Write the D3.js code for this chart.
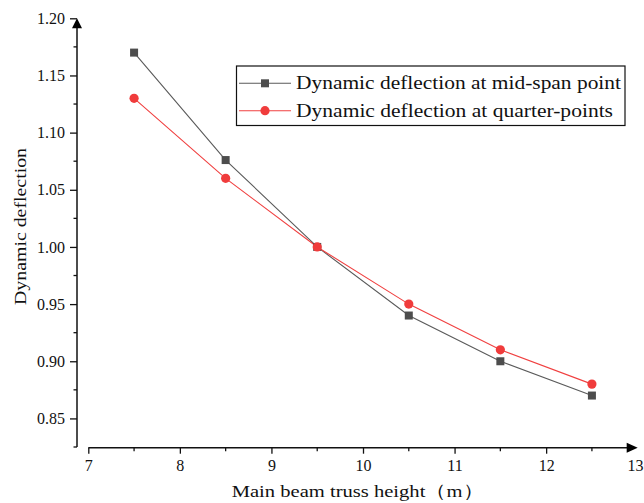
<!DOCTYPE html>
<html lang="en">
<head>
    <meta charset="UTF-8">
    <title>Dynamic deflection</title>
    <style>
        body { margin: 0; background: #fff; }
        text { font-family: "Liberation Serif", "Times New Roman", serif; fill: #111; }
    </style>
</head>
<body>
    <script src="https://cdn.jsdelivr.net/npm/d3@7"></script>
    <script>
        // data
        var heights = [7.5, 8.5, 9.5, 10.5, 11.5, 12.5],
            midSpan = [1.17, 1.076, 1.00, 0.94, 0.90, 0.87],
            quarter = [1.13, 1.06, 1.00, 0.95, 0.91, 0.88],
            xTicks = [7, 8, 9, 10, 11, 12, 13],
            yTicks = [0.85, 0.90, 0.95, 1.00, 1.05, 1.10, 1.15, 1.20],
            seriesNames = ['Dynamic deflection at mid-span point', 'Dynamic deflection at quarter-points'];

        var width = 644, height = 503;
        var serif = '"Liberation Serif", "Times New Roman", serif';
        var svg = d3.select('body').append('svg')
            .attr('width', width)
            .attr('height', height);

        // scales
        var x = d3.scaleLinear().domain([7, 13]).range([88.3, 637.7]);
        var y = d3.scaleLinear().domain([0.825, 1.20]).range([447, 18.3]);
        var yAxisX = 77, xAxisY = 447.7;

        // y axis
        var yAxis = d3.axisLeft(y)
            .tickValues(yTicks)
            .tickSize(7)
            .tickPadding(5)
            .tickFormat(d3.format('.2f'));
        var gy = svg.append('g')
            .attr('transform', 'translate(' + yAxisX + ',0)')
            .call(yAxis);
        gy.select('.domain').remove();
        gy.selectAll('.tick line').attr('stroke', '#111').attr('stroke-width', 1.3);
        gy.selectAll('.tick text').attr('fill', '#222')
            .style('font-family', serif).style('font-size', '16px');
        // minor y ticks
        var yMinor = d3.range(0.825, 1.2, 0.05);
        gy.selectAll('.minor').data(yMinor).enter().append('line')
            .attr('x1', -3.5).attr('x2', 0)
            .attr('y1', function(d) { return y(d); })
            .attr('y2', function(d) { return y(d); })
            .attr('stroke', '#111').attr('stroke-width', 1.3);
        gy.append('line')
            .attr('x1', 0).attr('x2', 0)
            .attr('y1', y(0.825)).attr('y2', y(1.2) + 6)
            .attr('stroke', '#111').attr('stroke-width', 1.5);
        gy.append('path')
            .attr('d', 'M0,' + y(1.2) + 'L-5,' + (y(1.2) + 10) + 'L5,' + (y(1.2) + 10) + 'Z')
            .attr('fill', '#000');

        // x axis
        var xAxis = d3.axisBottom(x)
            .tickValues(xTicks)
            .tickSize(6)
            .tickPadding(6)
            .tickFormat(d3.format('d'));
        var gx = svg.append('g')
            .attr('transform', 'translate(0,' + xAxisY + ')')
            .call(xAxis);
        gx.select('.domain').remove();
        gx.selectAll('.tick line').attr('stroke', '#111').attr('stroke-width', 1.3)
            .filter(function(d) { return d === 13; }).remove();
        gx.selectAll('.tick text').attr('fill', '#222')
            .style('font-family', serif).style('font-size', '16px')
            .filter(function(d) { return d === 13; })
            .attr('text-anchor', 'end').attr('x', 643 - x(13));
        var xMinor = d3.range(7.5, 13, 1);
        gx.selectAll('.minor').data(xMinor).enter().append('line')
            .attr('x1', function(d) { return x(d); })
            .attr('x2', function(d) { return x(d); })
            .attr('y1', 0).attr('y2', 3.5)
            .attr('stroke', '#111').attr('stroke-width', 1.3);
        gx.append('line')
            .attr('x1', x(7)).attr('x2', x(13) - 6)
            .attr('y1', 0).attr('y2', 0)
            .attr('stroke', '#111').attr('stroke-width', 1.5);
        gx.append('path')
            .attr('d', 'M' + x(13) + ',0L' + (x(13) - 11) + ',-5L' + (x(13) - 11) + ',5Z')
            .attr('fill', '#000');

        // axis titles
        svg.append('text')
            .attr('x', 231.7).attr('y', 496.5)
            .attr('textLength', 252).attr('lengthAdjust', 'spacingAndGlyphs')
            .style('font-size', '17.5px')
            .text('Main beam truss height（m）');
        svg.append('text')
            .attr('transform', 'translate(25.5,305) rotate(-90)')
            .attr('textLength', 157).attr('lengthAdjust', 'spacingAndGlyphs')
            .style('font-size', '17.5px')
            .text('Dynamic deflection');

        // lines
        var line = d3.line()
            .x(function(d, i) { return x(heights[i]); })
            .y(function(d) { return y(d); });

        svg.append('path').datum(midSpan)
            .attr('d', line).attr('fill', 'none')
            .attr('stroke', '#5a5a5a').attr('stroke-width', 1.1);
        svg.append('path').datum(quarter)
            .attr('d', line).attr('fill', 'none')
            .attr('stroke', '#f04040').attr('stroke-width', 1.1);

        svg.selectAll('.sq').data(midSpan).enter().append('rect')
            .attr('x', function(d, i) { return x(heights[i]) - 4; })
            .attr('y', function(d) { return y(d) - 4; })
            .attr('width', 8).attr('height', 8)
            .attr('fill', '#4d4d4d');
        svg.selectAll('.ci').data(quarter).enter().append('circle')
            .attr('cx', function(d, i) { return x(heights[i]); })
            .attr('cy', function(d) { return y(d); })
            .attr('r', 4.6)
            .attr('fill', '#f03c3c');

        // legend
        var lg = svg.append('g');
        lg.append('rect')
            .attr('x', 236.5).attr('y', 66)
            .attr('width', 388.5).attr('height', 59.5)
            .attr('fill', '#fff').attr('stroke', '#111').attr('stroke-width', 1.2);
        var rows = [83.3, 110.7];
        var lens = [325, 317];
        var colors = ['#5a5a5a', '#f04040'];
        rows.forEach(function(ry, i) {
            lg.append('line')
                .attr('x1', 239).attr('x2', 291)
                .attr('y1', ry).attr('y2', ry)
                .attr('stroke', colors[i]).attr('stroke-width', 1.1);
            if (i === 0) {
                lg.append('rect').attr('x', 261).attr('y', ry - 4).attr('width', 8).attr('height', 8).attr('fill', '#4d4d4d');
            } else {
                lg.append('circle').attr('cx', 265).attr('cy', ry).attr('r', 4.6).attr('fill', '#f03c3c');
            }
            lg.append('text')
                .attr('x', 296).attr('y', ry + 6)
                .attr('textLength', lens[i]).attr('lengthAdjust', 'spacingAndGlyphs')
                .style('font-size', '18.5px')
                .text(seriesNames[i]);
        });
    </script>
</body>
</html>
